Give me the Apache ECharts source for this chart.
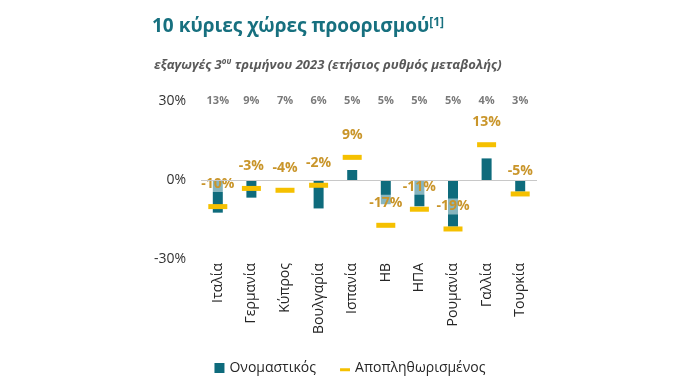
<!DOCTYPE html>
<html>
<head>
<meta charset="utf-8">
<script src="https://cdn.jsdelivr.net/npm/echarts@6/dist/echarts.min.js"></script>
<style>html,body{margin:0;padding:0;background:#fff}#c{width:700px;height:385px}</style>
</head>
<body>
<div id="c"></div>
<script>
const categories = ['Ιταλία','Γερμανία','Κύπρος','Βουλγαρία','Ισπανία','ΗΒ','ΗΠΑ','Ρουμανία','Γαλλία','Τουρκία'];
const nominal = [-12.4, -6.7, 0, -10.8, 3.8, -9.2, -10.0, -17.7, 8.2, -4.4];
const deflated = [-10.1, -3.2, -3.9, -2.0, 8.6, -17.2, -11.1, -18.6, 13.4, -5.3];
const shares = ['13%','9%','7%','6%','5%','5%','5%','5%','4%','3%'];
const yTicks = [-30, 0, 30];

const FONT = '"Open Sans", "Noto Sans", sans-serif';
const chart = echarts.init(document.getElementById('c'), null, {renderer: 'canvas'});
chart.setOption({
  animation: false,
  backgroundColor: '#fff',
  title: [{
    left: 147, top: 12,
    text: '10 κύριες χώρες προορισμού{s|[1]}',
    textStyle: {
      fontFamily: FONT, fontSize: 19, fontWeight: 'bold', color: '#17707f',
      rich: { s: { fontFamily: FONT, fontSize: 12, fontWeight: 'bold', color: '#17707f', verticalAlign: 'top', padding: [0,0,8,0] } }
    }
  }, {
    left: 149, top: 53,
    text: 'εξαγωγές 3{s|ου} τριμήνου 2023 (ετήσιος ρυθμός μεταβολής)',
    textStyle: {
      fontFamily: FONT, fontSize: 13, fontWeight: 'bold', fontStyle: 'italic', color: '#595959',
      rich: { s: { fontFamily: FONT, fontSize: 8, fontWeight: 'bold', fontStyle: 'italic', color: '#595959', padding: [0,0,6,0] } }
    }
  }],
  grid: { left: 201, right: 163, top: 101, bottom: 126, containLabel: false },
  legend: {
    bottom: 5, left: 'center', itemGap: 24, itemWidth: 10, itemHeight: 10,
    textStyle: { fontFamily: FONT, fontSize: 14, color: '#262626' },
    data: [
      { name: 'Ονομαστικός', icon: 'rect' },
      { name: 'Αποπληθωρισμένος', icon: 'path://M0,0L0,0M0,3.5L10,3.5L10,6.5L0,6.5Z' }
    ]
  },
  xAxis: {
    type: 'category', data: categories,
    axisLine: { show: false, onZero: false }, axisTick: { show: false },
    axisLabel: { rotate: 90, margin: 4, fontFamily: FONT, fontSize: 14, color: '#262626' }
  },
  yAxis: {
    type: 'value', min: yTicks[0], max: yTicks[yTicks.length-1], interval: 30,
    splitLine: { show: false }, axisLine: { show: false }, axisTick: { show: false },
    axisLabel: { margin: 15, fontFamily: FONT, fontSize: 14, color: '#333', formatter: v => v + '%' }
  },
  series: [{
    name: 'Ονομαστικός', type: 'bar', data: nominal, barWidth: 10,
    itemStyle: { color: '#0e6b7c' },
    markLine: {
      silent: true, symbol: 'none', label: { show: false },
      lineStyle: { color: '#c8c8c8', width: 1, type: 'solid' },
      data: [{ yAxis: 0 }]
    }
  }, {
    name: 'Αποπληθωρισμένος', type: 'scatter', data: deflated,
    symbol: 'rect', symbolSize: [19, 5], z: 3,
    itemStyle: { color: '#f5c000', opacity: 1 },
    label: {
      show: true, position: 'top', distance: 12,
      fontFamily: FONT, fontSize: 14, fontWeight: 'bold', color: '#c9952a',
      backgroundColor: 'rgba(255,255,255,0.5)', padding: [1, 1],
      formatter: p => Math.round(p.value) + '%'
    }
  }, {
    name: 'shares', type: 'scatter', data: shares.map(() => yTicks[yTicks.length-1]),
    symbolSize: 0, silent: true, z: 4,
    label: {
      show: true, position: 'inside',
      fontFamily: FONT, fontSize: 11, fontWeight: 'bold', color: '#595959',
      formatter: p => shares[p.dataIndex]
    }
  }]
});
</script>
</body>
</html>
